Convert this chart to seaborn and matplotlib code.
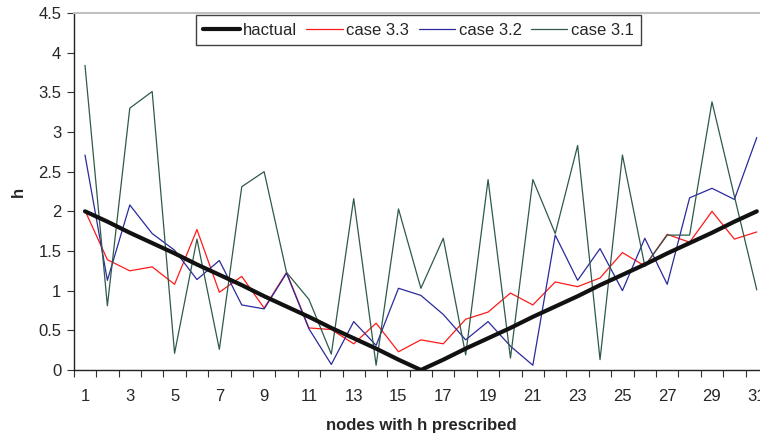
import matplotlib
matplotlib.use("Agg")
import matplotlib.pyplot as plt
import seaborn as sns
import numpy as np
import pandas as pd
from matplotlib.ticker import FixedLocator, FuncFormatter

# data
nodes = list(range(1, 32))
hactual = [2.0, 1.87, 1.73, 1.6, 1.47, 1.33, 1.2, 1.07, 0.93, 0.8, 0.67, 0.53, 0.4, 0.27, 0.13, 0.0,
           0.13, 0.27, 0.4, 0.53, 0.67, 0.8, 0.93, 1.07, 1.2, 1.33, 1.47, 1.6, 1.73, 1.87, 2.0]
case33 = [2.01, 1.39, 1.25, 1.30, 1.08, 1.77, 0.98, 1.18, 0.78, 1.23, 0.53, 0.51, 0.33, 0.59, 0.23, 0.38,
          0.33, 0.64, 0.73, 0.97, 0.82, 1.11, 1.05, 1.16, 1.48, 1.31, 1.71, 1.61, 2.00, 1.65, 1.74]
case32 = [2.71, 1.13, 2.08, 1.72, 1.51, 1.14, 1.38, 0.82, 0.77, 1.22, 0.52, 0.07, 0.61, 0.31, 1.03, 0.94,
          0.70, 0.38, 0.61, 0.30, 0.06, 1.70, 1.13, 1.53, 1.00, 1.66, 1.08, 2.17, 2.29, 2.15, 2.93]
case31 = [3.84, 0.81, 3.30, 3.51, 0.21, 1.65, 0.26, 2.31, 2.50, 1.23, 0.89, 0.20, 2.16, 0.06, 2.03, 1.03,
          1.66, 0.19, 2.40, 0.15, 2.40, 1.72, 2.83, 0.13, 2.71, 1.31, 1.70, 1.70, 3.38, 2.19, 1.01]

series = [("hactual", hactual, "#111111", 3.0, 5),
          ("case 3.3", case33, "#ff1a1a", 0.9, 3),
          ("case 3.2", case32, "#2a2a9c", 0.9, 3),
          ("case 3.1", case31, "#2e5a48", 0.9, 4)]

sns.set_style("white")
plt.rcParams["font.family"] = ["Liberation Sans", "DejaVu Sans"]

fig = plt.figure(figsize=(7.6, 4.36), dpi=100)
ax = fig.add_axes([0.0971, 0.1514, 0.9134, 0.8188])

for name, vals, col, lw, z in series:
    sns.lineplot(x=nodes, y=vals, ax=ax, color=col, linewidth=lw, label=name, zorder=z)

ax.set_xlim(0.5, 31.5)
ax.set_ylim(0, 4.5)

ax.xaxis.set_major_locator(FixedLocator(nodes[::2]))
ax.xaxis.set_minor_locator(FixedLocator(np.arange(0.5, 32, 1)))
ax.tick_params(axis="x", which="major", length=0, pad=14, labelsize=12)
ax.tick_params(axis="x", which="minor", length=5, width=0.8, color="#333333", direction="out", bottom=True)
ax.set_yticks(np.arange(0, 4.51, 0.5))
ax.yaxis.set_major_formatter(FuncFormatter(lambda v, p: "%g" % v))
ax.tick_params(axis="y", length=5, width=0.8, color="#333333", direction="out", left=True, labelsize=12, pad=4)

for s in ["left", "bottom"]:
    ax.spines[s].set_color("#222222")
    ax.spines[s].set_linewidth(1.0)
for s in ["top", "right"]:
    ax.spines[s].set_color("#c0c0c0")
    ax.spines[s].set_linewidth(1.5)

ax.set_xlabel("nodes with h prescribed", fontsize=12, fontweight="bold", labelpad=10)
ax.set_ylabel("h", fontsize=12, fontweight="bold", labelpad=9)

leg = ax.legend(loc="upper left", bbox_to_anchor=(0.172, 1.0), ncol=4, frameon=True, fancybox=False,
                fontsize=12, handlelength=2.2, handletextpad=0.2, columnspacing=0.55,
                borderpad=0.45, borderaxespad=0.15)
leg.get_frame().set_edgecolor("#111111")
leg.get_frame().set_linewidth(1.0)

fig.savefig("out.png", dpi=100)
